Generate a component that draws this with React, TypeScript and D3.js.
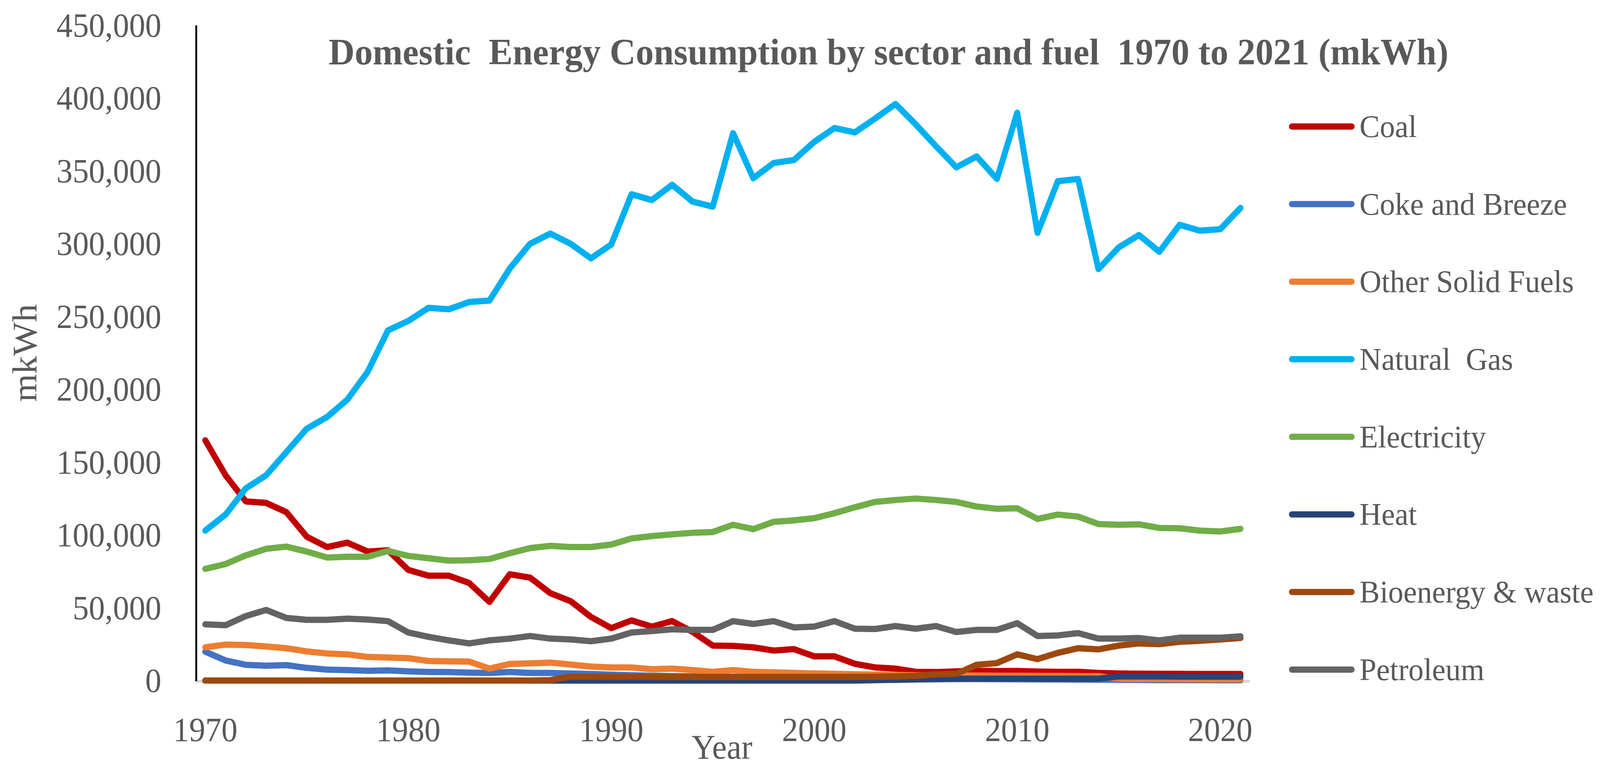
import * as d3 from "d3";
import { useEffect, useRef } from "react";

const years = d3.range(1970, 2022);

const coal = [165000, 141000, 123000, 122000, 115600, 98800, 91700, 94700, 88600, 89500, 76000, 72000, 72000, 67000, 54000, 73000, 70700, 60000, 54500, 43700, 36000, 41300, 37000, 40800, 33500, 24000, 23800, 22800, 20600, 21600, 16600, 16600, 11500, 9000, 8200, 6000, 5800, 6300, 6600, 6500, 6600, 6200, 6000, 6000, 5200, 4800, 4700, 4600, 4600, 4500, 4500, 4500];
const coke = [19800, 13800, 10800, 10200, 10600, 8700, 7500, 7200, 6700, 7000, 6300, 5900, 5800, 5400, 5200, 5900, 5200, 5200, 4800, 4500, 4000, 3600, 3300, 3100, 2900, 2700, 2600, 2400, 2200, 2100, 2000, 1900, 1800, 1700, 1600, 1500, 1400, 1300, 1200, 1100, 1000, 900, 800, 700, 600, 500, 400, 300, 300, 300, 200, 200];
const otherSolid = [22800, 24700, 24400, 23400, 22200, 20000, 18600, 18000, 16200, 15800, 15400, 13400, 13200, 13000, 8200, 11400, 11800, 12300, 11000, 9600, 9000, 9000, 7800, 8200, 7200, 6000, 7200, 6000, 5600, 5200, 4900, 4600, 4300, 4100, 3900, 3700, 3600, 3500, 3400, 3300, 3300, 3200, 3200, 3100, 3000, 1200, 1100, 1000, 900, 800, 800, 800];
const naturalGas = [103000, 114000, 132000, 141000, 157000, 173000, 181000, 193000, 212000, 240500, 247000, 256000, 255000, 260000, 261000, 283000, 300000, 307000, 300000, 290000, 299500, 334000, 330000, 340500, 329000, 325500, 376000, 345000, 355500, 357500, 370000, 379500, 376500, 386000, 396000, 382000, 367000, 352500, 360000, 344500, 390000, 307500, 343000, 344500, 282600, 297500, 306000, 294500, 313000, 309000, 310000, 324600];
const electricity = [76700, 80000, 86000, 90500, 92000, 88600, 84500, 85000, 85000, 89000, 85600, 84000, 82400, 82600, 83500, 87400, 91000, 92500, 91700, 91700, 93400, 97600, 99200, 100400, 101500, 102000, 107000, 104000, 109000, 110000, 111500, 115000, 119000, 122700, 124000, 125000, 124000, 122700, 119500, 118000, 118300, 111000, 114000, 112600, 107500, 107000, 107300, 104800, 104600, 103000, 102400, 104200];
const heat = [0, 0, 0, 0, 0, 0, 0, 0, 0, 0, 0, 0, 0, 0, 0, 0, 0, 0, 0, 0, 0, 0, 0, 0, 0, 0, 0, 0, 0, 0, 0, 0, 0, 300, 500, 800, 1000, 1200, 1300, 1300, 1300, 1300, 1300, 1300, 1300, 2800, 2800, 2800, 2700, 2700, 2700, 2700];
const bioenergy = [0, 0, 0, 0, 0, 0, 0, 0, 0, 0, 0, 0, 0, 0, 0, 0, 0, 300, 2700, 2700, 2600, 2600, 2600, 2500, 2500, 2500, 2500, 2500, 2500, 2500, 2500, 2500, 2500, 2600, 2800, 3200, 4300, 4600, 10800, 12000, 18000, 14700, 19000, 22200, 21400, 24000, 25500, 25000, 26600, 27300, 28200, 29200];
const petroleum = [38600, 38000, 44300, 48500, 43000, 41700, 41700, 42500, 41900, 40800, 33000, 30000, 27600, 25500, 27600, 28800, 30600, 28800, 28200, 27000, 28800, 33000, 34000, 35200, 34800, 34800, 40800, 38900, 40800, 36500, 37100, 40800, 35600, 35400, 37400, 35600, 37400, 33300, 34800, 34800, 39400, 30600, 31000, 32600, 28800, 28800, 29200, 27600, 29400, 29400, 29400, 30400];

const seriesNames = ["Coal", "Coke and Breeze", "Other Solid Fuels", "Natural  Gas", "Electricity", "Heat", "Bioenergy & waste", "Petroleum"];
const seriesColors = ["#C00000", "#4472C4", "#ED7D31", "#00B0F0", "#70AD47", "#264478", "#9E480E", "#636363"];
const seriesValues = [coal, coke, otherSolid, naturalGas, electricity, heat, bioenergy, petroleum];

const yTicks = d3.range(0, 450001, 50000);
const xTickYears = [1970, 1980, 1990, 2000, 2010, 2020];

const W = 4264;
const H = 1967;
const FONT = "'Liberation Serif', 'Times New Roman', serif";
const TEXT = "#595959";

export default function App() {
    const svgRef = useRef<SVGSVGElement | null>(null);

    useEffect(() => {
        if (!svgRef.current) return;
        const svg = d3.select(svgRef.current);
        svg.selectAll("*").remove();

        const plot = { left: 523, right: 3331, top: 65, bottom: 1743 };

        const x = d3
            .scalePoint<number>()
            .domain(years)
            .range([plot.left - 3, plot.right + 2])
            .padding(0.5);

        const y = d3
            .scaleLinear()
            .domain([0, 450000])
            .range([plot.bottom, plot.top]);

        svg.append("rect").attr("width", W).attr("height", H).attr("fill", "#fff");

        // title
        svg.append("text")
            .attr("x", 2368)
            .attr("y", 165)
            .attr("text-anchor", "middle")
            .attr("font-family", FONT)
            .attr("font-weight", "bold")
            .attr("font-size", 96)
            .attr("fill", TEXT)
            .style("white-space", "pre")
            .text("Domestic  Energy Consumption by sector and fuel  1970 to 2021 (mkWh)");

        // y tick labels
        svg.append("g")
            .selectAll("text")
            .data(yTicks)
            .join("text")
            .attr("x", 430)
            .attr("y", (d) => y(d) + 29)
            .attr("text-anchor", "end")
            .attr("font-family", FONT)
            .attr("font-size", 86)
            .attr("fill", TEXT)
            .text((d) => d3.format(",")(d));

        // x tick labels
        svg.append("g")
            .selectAll("text")
            .data(xTickYears)
            .join("text")
            .attr("x", (d) => x(d)!)
            .attr("y", 1898)
            .attr("text-anchor", "middle")
            .attr("font-family", FONT)
            .attr("font-size", 86)
            .attr("fill", TEXT)
            .text((d) => String(d));

        // axis titles
        svg.append("text")
            .attr("x", 1924)
            .attr("y", 1943)
            .attr("text-anchor", "middle")
            .attr("font-family", FONT)
            .attr("font-size", 88)
            .attr("fill", TEXT)
            .text("Year");

        svg.append("text")
            .attr("transform", `translate(97,${(plot.top + plot.bottom) / 2}) rotate(-90)`)
            .attr("text-anchor", "middle")
            .attr("font-family", FONT)
            .attr("font-size", 92)
            .attr("fill", TEXT)
            .text("mkWh");

        // horizontal axis line
        svg.append("line")
            .attr("x1", plot.left)
            .attr("x2", plot.right)
            .attr("y1", y(0) + 2)
            .attr("y2", y(0) + 2)
            .attr("stroke", "#D9D9D9")
            .attr("stroke-width", 8);

        // series
        const line = d3
            .line<number>()
            .x((_, i) => x(years[i])!)
            .y((d) => y(d));

        seriesValues.forEach((vals, i) => {
            svg.append("path")
                .datum(vals)
                .attr("fill", "none")
                .attr("stroke", seriesColors[i])
                .attr("stroke-width", 16)
                .attr("stroke-linejoin", "round")
                .attr("stroke-linecap", "round")
                .attr("d", line);
        });

        // vertical axis line
        svg.append("line")
            .attr("x1", plot.left)
            .attr("x2", plot.left)
            .attr("y1", plot.top)
            .attr("y2", plot.bottom + 2)
            .attr("stroke", "#000")
            .attr("stroke-width", 5);

        // legend
        const legend = svg.append("g");
        seriesNames.forEach((name, i) => {
            const ly = 324 + i * 198.7;
            legend.append("line")
                .attr("x1", 3443)
                .attr("x2", 3602)
                .attr("y1", ly)
                .attr("y2", ly)
                .attr("stroke", seriesColors[i])
                .attr("stroke-width", 16)
                .attr("stroke-linecap", "round");
            legend.append("text")
                .attr("x", 3623)
                .attr("y", ly + 27)
                .attr("font-family", FONT)
                .attr("font-size", 81)
                .attr("fill", TEXT)
                .style("white-space", "pre")
                .text(name);
        });
    }, []);

    return (
        <svg
            ref={svgRef}
            viewBox={`0 0 ${W} ${H}`}
            preserveAspectRatio="none"
            style={{ position: "fixed", left: 0, top: 0, width: "100vw", height: "100vh", display: "block" }}
        />
    );
}
